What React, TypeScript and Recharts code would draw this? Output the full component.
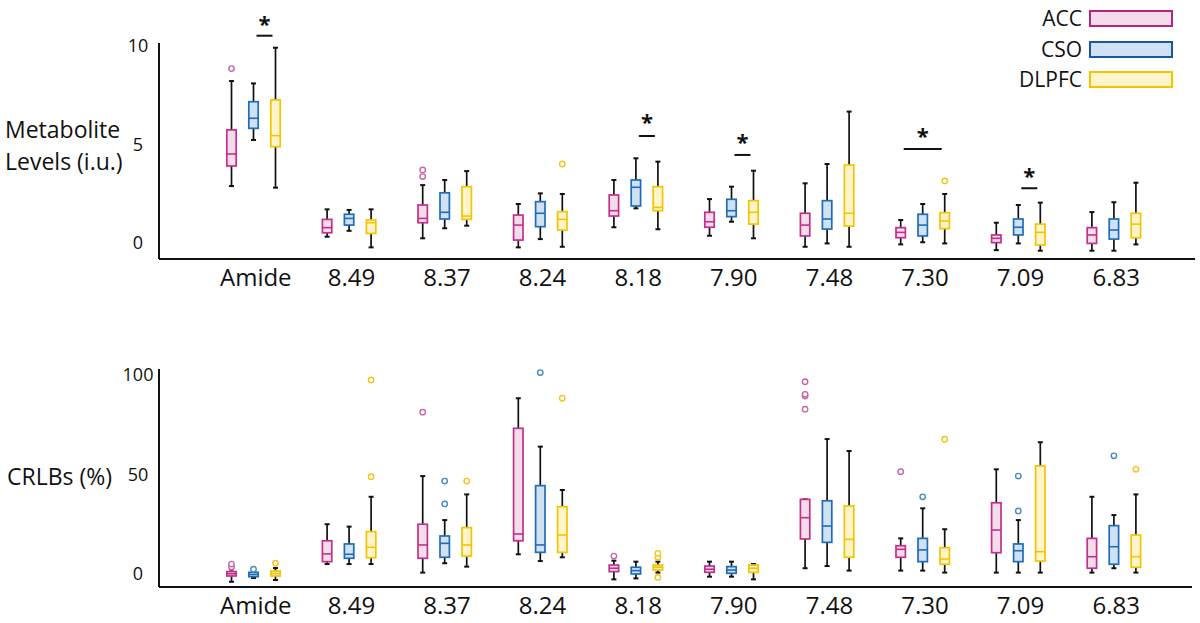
import React from 'react';
import { ComposedChart, Bar, XAxis, YAxis, Legend } from 'recharts';

const categories = ['Amide', '8.49', '8.37', '8.24', '8.18', '7.90', '7.48', '7.30', '7.09', '6.83'];
const groups = ['ACC', 'CSO', 'DLPFC'];
const strokes = ['#c2308b', '#1f6db6', '#f5c400'];
const fills = ['#f4dcea', '#cfe1f2', '#fff4cc'];
const dotColors = ['#c768a6', '#4a88c4', '#f3c51a'];
const legendStrokes = ['#b5257e', '#1857a4', '#f5c400'];

// each box: [low whisker, Q1, median, Q3, high whisker]
const levelsACC = [
  [2.89, 3.91, 4.52, 5.74, 8.22], [0.32, 0.52, 0.78, 1.2, 1.71], [0.24, 1.03, 1.25, 1.93, 2.94],
  [-0.22, 0.15, 0.91, 1.42, 1.98], [0.8, 1.37, 1.64, 2.44, 3.2], [0.37, 0.8, 1.08, 1.56, 2.23],
  [-0.19, 0.36, 0.91, 1.51, 3.03], [-0.07, 0.27, 0.54, 0.78, 1.17], [-0.36, 0.02, 0.24, 0.41, 1.03],
  [-0.39, -0.02, 0.41, 0.78, 1.57],
];
const levelsCSO = [
  [5.23, 5.82, 6.33, 7.17, 8.1], [0.62, 0.91, 1.25, 1.46, 1.68], [0.75, 1.22, 1.56, 2.55, 3.2],
  [0.2, 0.83, 1.51, 2.1, 2.52], [1.76, 1.88, 2.83, 3.2, 4.3], [1.08, 1.34, 1.64, 2.22, 2.86],
  [-0.02, 0.71, 1.22, 2.15, 4.01], [0.04, 0.36, 0.91, 1.46, 1.98], [-0.02, 0.41, 0.8, 1.22, 1.93],
  [-0.39, 0.2, 0.66, 1.22, 2.07],
];
const levelsDLPFC = [
  [2.81, 4.89, 5.45, 7.26, 9.91], [-0.22, 0.49, 1.03, 1.17, 1.71], [0.88, 1.2, 1.37, 2.86, 3.65],
  [-0.19, 0.66, 1.2, 1.59, 2.49], [0.7, 1.64, 1.81, 2.86, 4.13], [0.24, 0.96, 1.56, 2.15, 3.67],
  [-0.19, 0.86, 1.51, 3.96, 6.67], [-0.02, 0.73, 1.12, 1.54, 2.49], [-0.39, -0.1, 0.54, 0.96, 2.05],
  [-0.07, 0.27, 0.96, 1.51, 3.06],
];
const levelsOutACC = [[8.85], [], [3.37, 3.71], [], [], [], [], [], [], []];
const levelsOutCSO = [[], [], [], [], [], [], [], [], [], []];
const levelsOutDLPFC = [[], [], [], [4.01], [], [], [], [3.15], [], []];

// significance marks (always drawn to DLPFC)
const sigCats = ['Amide', '8.18', '7.90', '7.30', '7.09'];
const sigFrom = ['CSO', 'CSO', 'CSO', 'ACC', 'CSO'];
const sigBarLevel = [10.52, 5.43, 4.47, 4.77, 2.78];
const sigStarLevel = [11.32, 6.35, 5.31, 5.65, 3.62];

const crlbACC = [
  [-3.9, -1.0, 0.1, 1.2, 2.3], [5.0, 6.2, 10.1, 16.7, 25.0], [0.7, 7.9, 14.6, 25.0, 49.2],
  [9.9, 16.7, 20.1, 73.2, 88.3], [-2.7, 1.2, 2.9, 4.5, 6.7], [-1.35, 0.85, 2.4, 4.0, 6.2],
  [2.9, 17.6, 28.3, 37.5, 37.5], [1.7, 8.4, 12.4, 14.2, 17.9], [0.7, 10.7, 22.1, 35.8, 52.6],
  [0.7, 2.9, 8.7, 17.9, 38.8],
];
const crlbCSO = [
  [-2.0, -1.35, -0.25, 0.85, 1.25], [5.0, 7.9, 9.9, 15.1, 23.8], [5.4, 8.4, 15.4, 19.1, 27.1],
  [6.5, 10.9, 14.6, 44.4, 64.0], [-2.2, 0, 1.7, 3.4, 6.2], [-1.35, 0.35, 2.0, 3.7, 6.2],
  [4.0, 15.9, 24.1, 36.8, 67.8], [1.7, 6.2, 12.1, 17.9, 33.0], [0.7, 6.2, 11.7, 15.1, 27.1],
  [2.9, 4.9, 13.7, 24.3, 29.6],
];
const crlbDLPFC = [
  [-3.0, -1.0, 0.25, 1.5, 3.0], [5.0, 8.2, 13.4, 21.3, 38.8], [3.7, 9.0, 14.6, 23.3, 40.0],
  [8.4, 10.9, 19.6, 33.8, 42.2], [0.7, 2.0, 3.4, 4.5, 6.2], [-2.7, 0.85, 2.9, 4.5, 5.0],
  [1.7, 8.4, 17.4, 34.2, 61.8], [0.7, 4.9, 7.5, 13.2, 22.5], [0.7, 6.5, 11.2, 54.3, 66.2],
  [0.7, 3.4, 8.7, 19.6, 40.0],
];
const crlbOutACC = [[3.5, 5.0], [], [81.3], [], [9.0], [], [82.8, 89.4, 90.3, 96.6], [51.4], [], []];
const crlbOutCSO = [[2.4], [], [35.2, 46.7], [101.2], [], [], [], [38.8], [31.7, 49.2], [59.4]];
const crlbOutDLPFC = [[5.4], [48.9, 97.5], [46.7], [88.3], [-1.7, 8.4, 10.4], [], [], [67.7], [], [52.6]];

const BAR_SIZE = 11;
const BAR_GAP = 11;
const FONT = "'Open Sans', sans-serif";

function buildRows(stats: number[][][], outs: number[][][], withSig: boolean) {
  return categories.map((cat, i) => {
    const row: any = { cat };
    groups.forEach((g, k) => {
      row[g] = { s: stats[k][i], out: outs[k][i] };
    });
    const j = sigCats.indexOf(cat);
    if (withSig && j >= 0) {
      row.sig = { from: sigFrom[j], bar: sigBarLevel[j], star: sigStarLevel[j] };
    }
    return row;
  });
}

const levelRows = buildRows(
  [levelsACC, levelsCSO, levelsDLPFC],
  [levelsOutACC, levelsOutCSO, levelsOutDLPFC],
  true,
);
const crlbRows = buildRows(
  [crlbACC, crlbCSO, crlbDLPFC],
  [crlbOutACC, crlbOutCSO, crlbOutDLPFC],
  false,
);

const BoxShape = (props: any) => {
  const { x, y, width, height, payload, groupIndex } = props;
  const d = payload[groups[groupIndex]];
  const [lo, q1, med, q3, hi] = d.s;
  // linear map from value to pixel, using the bar's own [lo, hi] extent
  const py = (v: number) => y + (height * (hi - v)) / (hi - lo);
  const cx = x + width / 2;
  const sig = groupIndex === 2 ? payload.sig : null;
  let sigEls = null;
  if (sig) {
    const startCx = cx - (2 - groups.indexOf(sig.from)) * (width + BAR_GAP);
    sigEls = (
      <g>
        <line x1={startCx + 3} x2={cx - 3} y1={py(sig.bar)} y2={py(sig.bar)} stroke="#111" strokeWidth={2} />
        <text x={(startCx + cx) / 2} y={py(sig.star) + 12} textAnchor="middle" fontSize={22} fontWeight={700} fill="#111">
          *
        </text>
      </g>
    );
  }
  return (
    <g>
      <line x1={cx} x2={cx} y1={py(hi)} y2={py(lo)} stroke="#111" strokeWidth={1.7} />
      <line x1={cx - 2.5} x2={cx + 2.5} y1={py(hi)} y2={py(hi)} stroke="#111" strokeWidth={2} />
      <line x1={cx - 2.5} x2={cx + 2.5} y1={py(lo)} y2={py(lo)} stroke="#111" strokeWidth={2} />
      <rect
        x={x + 0.8}
        y={py(q3)}
        width={width - 1.6}
        height={Math.max(py(q1) - py(q3), 1)}
        fill={fills[groupIndex]}
        stroke={strokes[groupIndex]}
        strokeWidth={1.7}
      />
      <line x1={x + 0.8} x2={x + width - 0.8} y1={py(med)} y2={py(med)} stroke={strokes[groupIndex]} strokeWidth={1.6} />
      {d.out.map((v: number, i: number) => (
        <circle key={i} cx={cx} cy={py(v)} r={2.7} fill="#fff" stroke={dotColors[groupIndex]} strokeWidth={1.4} />
      ))}
      {sigEls}
    </g>
  );
};

const CatTick = (props: any) => {
  const { x, y, payload } = props;
  return (
    <text x={x + 2} y={y + 19} textAnchor="middle" fontSize={24} fill="#111" fontFamily={FONT}>
      {payload.value}
    </text>
  );
};

const ValueTick = (props: any) => {
  const { x, y, payload } = props;
  return (
    <text x={x - 13} y={y} dy="0.35em" textAnchor="middle" fontSize={18} fill="#111" fontFamily={FONT}>
      {payload.value}
    </text>
  );
};

const AxisTitle = ({ lines, left, firstBaseline, lineStep }: any) => (
  <g>
    {lines.map((t: string, i: number) => (
      <text key={t} x={left} y={firstBaseline + i * lineStep} fontSize={23} fill="#111" fontFamily={FONT}>
        {t}
      </text>
    ))}
  </g>
);

const LegendBox = () => (
  <div style={{ display: 'flex', flexDirection: 'column', alignItems: 'flex-end', fontFamily: FONT }}>
    {groups.map((g, k) => (
      <div key={g} style={{ display: 'flex', alignItems: 'center', height: 30.7 }}>
        <span style={{ fontSize: 21, color: '#111', marginRight: 7, lineHeight: 1 }}>{g}</span>
        <span
          style={{
            display: 'inline-block',
            width: 80,
            height: 13,
            border: `2px solid ${legendStrokes[k]}`,
            background: fills[k],
          }}
        />
      </div>
    ))}
  </div>
);

const renderBars = () =>
  groups.map((g, k) => (
    <Bar
      key={g}
      name={g}
      dataKey={(row: any) => [row[g].s[0], row[g].s[4]]}
      barSize={BAR_SIZE}
      fill={fills[k]}
      isAnimationActive={false}
      shape={(p: any) => <BoxShape {...p} groupIndex={k} />}
    />
  ));

export default function App() {
  return (
    <div style={{ position: 'absolute', left: 0, top: 0, width: 1200, height: 623, background: '#fff', fontFamily: FONT }}>
      <ComposedChart
        width={1200}
        height={300}
        data={levelRows}
        barGap={BAR_GAP}
        margin={{ top: 43, right: 5, bottom: 11, left: 0 }}
      >
        <XAxis
          dataKey="cat"
          type="category"
          height={30}
          padding={{ left: 47, right: 33 }}
          axisLine={{ stroke: '#111', strokeWidth: 2 }}
          tickLine={false}
          tick={<CatTick />}
          interval={0}
        />
        <YAxis
          type="number"
          width={159}
          domain={[-0.81, 10.15]}
          ticks={[0, 5, 10]}
          axisLine={{ stroke: '#111', strokeWidth: 2 }}
          tickLine={false}
          tick={<ValueTick />}
          label={<AxisTitle lines={['Metabolite', 'Levels (i.u.)']} left={5} firstBaseline={138} lineStep={32} />}
        />
        {renderBars()}
        <Legend
          layout="horizontal"
          verticalAlign="middle"
          align="center"
          wrapperStyle={{ left: 990, top: 3, width: 183, height: 95 }}
          content={() => <LegendBox />}
        />
      </ComposedChart>
      <div style={{ position: 'absolute', left: 0, top: 300 }}>
        <ComposedChart
          width={1200}
          height={323}
          data={crlbRows}
          barGap={BAR_GAP}
          margin={{ top: 69, right: 8, bottom: 6, left: 0 }}
        >
          <XAxis
            dataKey="cat"
            type="category"
            height={30}
            padding={{ left: 47, right: 30 }}
            axisLine={{ stroke: '#111', strokeWidth: 2 }}
            tickLine={false}
            tick={<CatTick />}
            interval={0}
          />
          <YAxis
            type="number"
            width={159}
            domain={[-6.53, 103]}
            ticks={[0, 50, 100]}
            axisLine={{ stroke: '#111', strokeWidth: 2 }}
            tickLine={false}
            tick={<ValueTick />}
            label={<AxisTitle lines={['CRLBs (%)']} left={7} firstBaseline={185} lineStep={32} />}
          />
          {renderBars()}
        </ComposedChart>
      </div>
    </div>
  );
}
